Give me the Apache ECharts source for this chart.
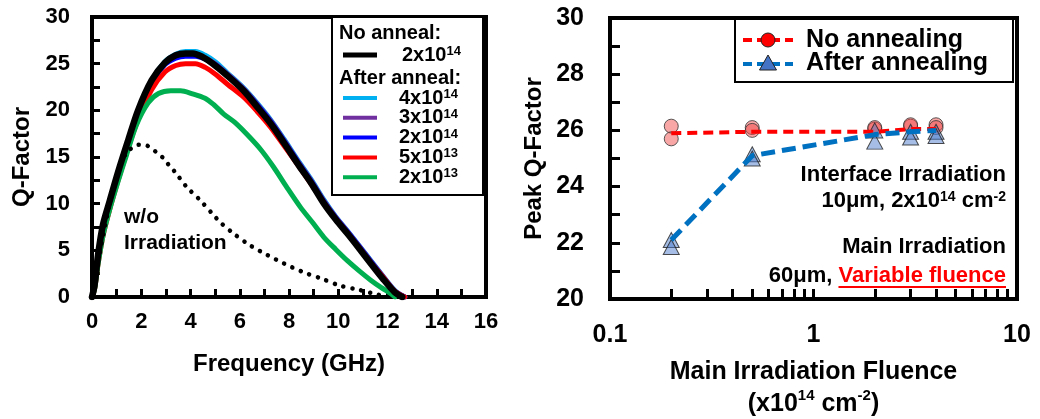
<!DOCTYPE html>
<html>
<head>
<meta charset="utf-8">
<script src="https://cdn.jsdelivr.net/npm/echarts@6/dist/echarts.min.js"></script>
<style>
html,body{margin:0;padding:0;background:#fff;}
#chart{width:1040px;height:419px;}
</style>
</head>
<body>
<div id="chart"></div>
<script>
// ---------- Left panel: Q-factor vs frequency ----------
const fNoAnneal2e14 = [0,0.1,0.25,0.45,0.72,1.06,1.47,1.87,2.42,2.96,3.4,3.8,4.1,4.5,4.9,5.5,6.16,6.7,7.25,7.8,8.4,8.9,9.42,9.9,10.37,10.85,11.32,11.8,12.3,12.6];
const qNoAnneal2e14 = [0,1.2,4.6,7.8,10.3,13.4,16.8,20.0,23.2,25.1,25.9,26.1,26.1,25.7,25.0,23.7,22.1,20.4,18.6,16.5,14.1,12.2,10.0,8.3,6.8,5.2,3.6,2.0,0.5,0];

const fAnnealed = [0,0.1,0.25,0.45,0.72,1.06,1.47,1.87,2.42,2.96,3.4,3.8,4.2,4.6,5.0,5.5,6.16,6.7,7.25,7.8,8.4,8.9,9.42,9.9,10.37,10.85,11.32,11.8,12.3,12.7];
const qAnneal4e14 = [0,1.2,4.5,7.6,10.1,13.2,16.6,19.9,23.2,25.2,26.0,26.3,26.3,25.9,25.2,24.0,22.4,20.8,19.0,16.9,14.5,12.6,10.4,8.6,7.1,5.5,3.9,2.3,0.7,0];
const qAnneal3e14 = [0,1.1,4.4,7.5,10.0,13.1,16.5,19.8,23.0,25.0,25.7,25.9,25.9,25.6,25.0,23.9,22.3,20.7,18.9,16.8,14.4,12.5,10.3,8.55,7.05,5.45,3.85,2.25,0.65,0];
const qAnneal2e14 = [0,1.1,4.4,7.5,10.0,13.1,16.5,19.8,22.9,24.9,25.6,25.8,25.8,25.5,24.9,23.8,22.2,20.6,18.8,16.7,14.3,12.4,10.2,8.5,7.0,5.4,3.8,2.2,0.6,0];
const qAnneal5e13 = [0,0.8,3.6,6.6,9.4,12.5,16.0,19.0,22.2,24.1,24.8,25.0,25.0,24.6,23.9,22.8,21.4,19.9,18.2,16.2,14.0,12.1,10.1,8.4,6.9,5.3,3.7,2.2,0.6,0];

const fAnneal2e13 = [0,0.1,0.25,0.45,0.72,1.06,1.4,1.8,2.28,2.7,3.2,3.6,4.05,4.59,4.95,5.35,5.8,6.3,6.85,7.38,7.9,8.47,8.95,9.42,9.9,10.37,10.85,11.32,11.75,12.14,12.3];
const qAnneal2e13 = [0,0.8,3.6,6.6,9.4,12.4,15.2,18.4,20.8,21.8,22.1,22.1,21.8,21.3,20.6,19.6,18.7,17.4,15.8,13.9,11.8,9.6,8.0,6.4,5.1,3.9,2.8,1.8,1.0,0.35,0];

const fNoIrr = [0,0.3,0.6,0.9,1.19,1.5,1.87,2.25,2.62,2.93,3.16,3.37,3.84,4.38,4.93,5.21,5.75,6.44,7.12,7.79,8.54,9.29,10.03,10.78,11.46,12.0];
const qNoIrr = [0,4.5,8.5,12.0,14.5,15.7,16.3,16.2,15.5,14.8,14.0,13.4,11.8,10.4,8.8,8.0,6.8,5.5,4.5,3.6,2.7,2.0,1.25,0.8,0.35,0];

const leftLegendNoAnneal = ['2x10^14'];
const leftLegendAfter = ['4x10^14','3x10^14','2x10^14','5x10^13','2x10^13'];

const freqTicks = [0,2,4,6,8,10,12,14,16];
const qTicks = [0,5,10,15,20,25,30];

// ---------- Right panel: peak Q vs fluence ----------
const fluence = [0.2,0.5,2,3,4];
const noAnnealA = [26.15,26.1,26.05,26.15,26.2];
const noAnnealB = [25.7,26.0,26.1,26.2,26.1];
const noAnnealTrend = [25.9,25.95,25.95,26.05,26.05];
const afterA = [22.1,25.15,26.0,25.95,25.95];
const afterB = [21.85,25.0,25.6,25.75,25.8];
const afterTrend = [22.1,25.1,25.85,25.95,26.0];
const fluenceTicks = [0.1,1,10];
const peakQTicks = [20,22,24,26,28,30];

// ---------- helpers ----------
const FONT = '"Liberation Sans", Arial, sans-serif';
function pairs(xs, ys){ return xs.map((x,i)=>[x, ys[i]]); }
function sup(s){ return s.replace(/\^(-?\d+)/g, '{sup|$1}'); }
const supRich = (fs) => ({
  sup: {fontSize: Math.round(fs*0.64), fontWeight:'bold', fontFamily:FONT, fill:'#000', verticalAlign:'top', lineHeight: Math.round(fs*0.64)}
});
function textWidth(txt, font){
  const c = document.createElement('canvas').getContext('2d');
  c.font = font; return c.measureText(txt).width;
}

const chart = echarts.init(document.getElementById('chart'));

const leftColors = {black:'#000000', cyan:'#00B0F0', purple:'#7030A0', blue:'#0000FF', red:'#FF0000', green:'#00B050'};

function curve(name, xs, ys, color, width, z){
  return {
    name, type:'line', xAxisIndex:0, yAxisIndex:0,
    data: pairs(xs, ys), showSymbol:false, symbol:'none', smooth:0.3,
    lineStyle:{color, width, cap:'round', join:'round'}, z: z||2
  };
}

// legend graphics (left)
const lg = [];
const legFont = 'bold 20px '+FONT;
lg.push({type:'rect', z:100, shape:{x:332, y:17, width:151, height:178}, style:{fill:'#fff', stroke:'#000', lineWidth:2}});
lg.push({type:'text', z:101, x:339, y:33, style:{text:'No anneal:', font:legFont, fill:'#000', verticalAlign:'middle'}});
lg.push({type:'line', z:101, shape:{x1:343, y1:55, x2:377, y2:55}, style:{stroke:leftColors.black, lineWidth:5}});
lg.push({type:'text', z:101, x:402, y:55, style:{text:sup(leftLegendNoAnneal[0]), font:legFont, fill:'#000', verticalAlign:'middle', rich:supRich(20)}});
lg.push({type:'text', z:101, x:339, y:78, style:{text:'After anneal:', font:legFont, fill:'#000', verticalAlign:'middle'}});
const afterColors = [leftColors.cyan, leftColors.purple, leftColors.blue, leftColors.red, leftColors.green];
leftLegendAfter.forEach((lab,i)=>{
  const y = 98 + i*19.8;
  lg.push({type:'line', z:101, shape:{x1:343, y1:y, x2:377, y2:y}, style:{stroke:afterColors[i], lineWidth:4}});
  lg.push({type:'text', z:101, x:399, y:y, style:{text:sup(lab), font:legFont, fill:'#000', verticalAlign:'middle', rich:supRich(20)}});
});
// w/o irradiation label
lg.push({type:'text', z:101, x:124, y:217, style:{text:'w/o', font:'bold 21px '+FONT, fill:'#000', verticalAlign:'middle'}});
lg.push({type:'text', z:101, x:124, y:243, style:{text:'Irradiation', font:'bold 21px '+FONT, fill:'#000', verticalAlign:'middle'}});

// legend graphics (right)
const rFont = 'bold 25px '+FONT;
lg.push({type:'rect', z:100, shape:{x:735, y:19, width:278, height:63}, style:{fill:'#fff', stroke:'#000', lineWidth:2}});
lg.push({type:'line', z:101, shape:{x1:743, y1:40, x2:793, y2:40}, style:{stroke:'#FF0000', lineWidth:4, lineDash:[9,5]}});
lg.push({type:'circle', z:102, shape:{cx:768, cy:40, r:7}, style:{fill:'#FF0000', stroke:'#222', lineWidth:1}});
lg.push({type:'text', z:101, x:806, y:40, style:{text:'No annealing', font:rFont, fill:'#000', verticalAlign:'middle'}});
lg.push({type:'line', z:101, shape:{x1:743, y1:64, x2:793, y2:64}, style:{stroke:'#0070C0', lineWidth:4, lineDash:[9,5]}});
lg.push({type:'polygon', z:102, shape:{points:[[768,55],[776.5,70],[759.5,70]]}, style:{fill:'#4472C4', stroke:'#222', lineWidth:1}});
lg.push({type:'text', z:101, x:806, y:63, style:{text:'After annealing', font:rFont, fill:'#000', verticalAlign:'middle'}});

// annotations (right)
const annFont = 'bold 22px '+FONT;
const varText = 'Variable fluence';
lg.push({type:'text', z:101, x:1006, y:175, style:{text:'Interface Irradiation', font:annFont, fill:'#000', align:'right', verticalAlign:'middle'}});
lg.push({type:'text', z:101, x:1006, y:201, style:{text:sup('10μm, 2x10^14 cm^-2'), font:annFont, fill:'#000', align:'right', verticalAlign:'middle', rich:supRich(22)}});
lg.push({type:'text', z:101, x:1006, y:247, style:{text:'Main Irradiation', font:annFont, fill:'#000', align:'right', verticalAlign:'middle'}});
lg.push({type:'text', z:101, x:1006, y:276, style:{text:'60μm, {red|'+varText+'}', font:annFont, fill:'#000', align:'right', verticalAlign:'middle',
  rich:{red:{fontSize:22, fontWeight:'bold', fontFamily:FONT, fill:'#FF0000', color:'#FF0000'}}}});
const vw = textWidth(varText, annFont);
lg.push({type:'line', z:101, shape:{x1:1006 - vw, y1:287, x2:1006, y2:287}, style:{stroke:'#FF0000', lineWidth:2}});

const tickLabelStyle = (fs) => ({fontSize:fs, fontWeight:'bold', fontFamily:FONT, color:'#000'});
const axLine = () => ({show:true, onZero:false, lineStyle:{color:'#000', width:4}});
const tick = (len) => ({show:true, inside:true, length:len, lineStyle:{color:'#000', width:3}});

const option = {
  animation:false,
  grid:[
    {left:92, top:17, width:394, height:280, show:true, borderColor:'#000', borderWidth:4, outerBoundsMode:'none', containLabel:false},
    {left:610, top:18, width:407, height:281, show:true, borderColor:'#000', borderWidth:4, outerBoundsMode:'none', containLabel:false}
  ],
  xAxis:[
    {type:'value', gridIndex:0, min:freqTicks[0], max:freqTicks[freqTicks.length-1], interval:freqTicks[1]-freqTicks[0],
     axisLine:axLine(), axisTick:tick(8),
     minorTick:{show:true, splitNumber:2, length:8, lineStyle:{color:'#000', width:3}},
     splitLine:{show:false}, minorSplitLine:{show:false},
     axisLabel:{...tickLabelStyle(22), margin:14},
     name:'Frequency (GHz)', nameLocation:'middle', nameGap:55,
     nameTextStyle:{fontSize:24, fontWeight:'bold', fontFamily:FONT, color:'#000'}},
    {type:'log', logBase:10, gridIndex:1, min:fluenceTicks[0], max:fluenceTicks[fluenceTicks.length-1],
     axisLine:axLine(), axisTick:tick(10),
     minorTick:{show:true, splitNumber:9, length:10, lineStyle:{color:'#000', width:3}},
     splitLine:{show:false}, minorSplitLine:{show:false},
     axisLabel:{...tickLabelStyle(25), margin:24, formatter:(v)=> String(+(+v).toPrecision(3))},
     name:'Main Irradiation Fluence\n(x10{sup|14} cm{sup|-2})', nameLocation:'middle', nameGap:57,
     nameTextStyle:{fontSize:25, fontWeight:'bold', fontFamily:FONT, color:'#000', lineHeight:32,
       rich:{sup:{fontSize:15, fontWeight:'bold', fontFamily:FONT, color:'#000', verticalAlign:'top', lineHeight:15}}}}
  ],
  yAxis:[
    {type:'value', gridIndex:0, min:qTicks[0], max:qTicks[qTicks.length-1], interval:qTicks[1]-qTicks[0],
     axisLine:axLine(), axisTick:tick(8),
     minorTick:{show:true, splitNumber:2, length:8, lineStyle:{color:'#000', width:3}},
     splitLine:{show:false}, minorSplitLine:{show:false},
     axisLabel:{...tickLabelStyle(22), margin:22},
     name:'Q-Factor', nameLocation:'middle', nameRotate:90, nameGap:58,
     nameTextStyle:{fontSize:24, fontWeight:'bold', fontFamily:FONT, color:'#000'}},
    {type:'value', gridIndex:1, min:peakQTicks[0], max:peakQTicks[peakQTicks.length-1], interval:peakQTicks[1]-peakQTicks[0],
     axisLine:axLine(), axisTick:tick(10),
     minorTick:{show:true, splitNumber:2, length:10, lineStyle:{color:'#000', width:3}},
     splitLine:{show:false}, minorSplitLine:{show:false},
     axisLabel:{...tickLabelStyle(25), margin:26},
     name:'Peak Q-Factor', nameLocation:'middle', nameRotate:90, nameGap:64,
     nameTextStyle:{fontSize:24, fontWeight:'bold', fontFamily:FONT, color:'#000'}}
  ],
  graphic: lg,
  series:[
    curve('After anneal 4x10^14', fAnnealed, qAnneal4e14, leftColors.cyan, 5),
    curve('After anneal 3x10^14', fAnnealed, qAnneal3e14, leftColors.purple, 5),
    curve('After anneal 2x10^14', fAnnealed, qAnneal2e14, leftColors.blue, 5),
    curve('After anneal 5x10^13', fAnnealed, qAnneal5e13, leftColors.red, 5),
    curve('After anneal 2x10^13', fAnneal2e13, qAnneal2e13, leftColors.green, 5),
    curve('No anneal 2x10^14', fNoAnneal2e14, qNoAnneal2e14, leftColors.black, 6.5, 3),
    {name:'w/o Irradiation', type:'line', xAxisIndex:0, yAxisIndex:0, data:pairs(fNoIrr, qNoIrr),
     showSymbol:false, symbol:'none', smooth:0.3, z:4,
     lineStyle:{color:'#000', width:4.5, type:[0.1,9], cap:'round'}},
    {name:'No annealing trend', type:'line', xAxisIndex:1, yAxisIndex:1, data:pairs(fluence, noAnnealTrend),
     showSymbol:false, symbol:'none', lineStyle:{color:'#FF0000', width:4, type:[10,6]}},
    {name:'After annealing trend', type:'line', xAxisIndex:1, yAxisIndex:1, data:pairs(fluence, afterTrend),
     showSymbol:false, symbol:'none', lineStyle:{color:'#0070C0', width:5, type:[14,7]}},
    {name:'No annealing A', type:'scatter', xAxisIndex:1, yAxisIndex:1, data:pairs(fluence, noAnnealA),
     symbol:'circle', symbolSize:14, itemStyle:{color:'rgba(240,70,70,0.6)', borderColor:'#333', borderWidth:1}},
    {name:'No annealing B', type:'scatter', xAxisIndex:1, yAxisIndex:1, data:pairs(fluence, noAnnealB),
     symbol:'circle', symbolSize:14, itemStyle:{color:'rgba(240,70,70,0.6)', borderColor:'#333', borderWidth:1}},
    {name:'After annealing A', type:'scatter', xAxisIndex:1, yAxisIndex:1, data:pairs(fluence, afterA),
     symbol:'triangle', symbolSize:[16,15], itemStyle:{color:'rgba(70,120,200,0.6)', borderColor:'#222', borderWidth:1}},
    {name:'After annealing B', type:'scatter', xAxisIndex:1, yAxisIndex:1, data:pairs(fluence, afterB),
     symbol:'triangle', symbolSize:[16,15], itemStyle:{color:'rgba(70,120,200,0.6)', borderColor:'#222', borderWidth:1}}
  ]
};
chart.setOption(option);
</script>
</body>
</html>
